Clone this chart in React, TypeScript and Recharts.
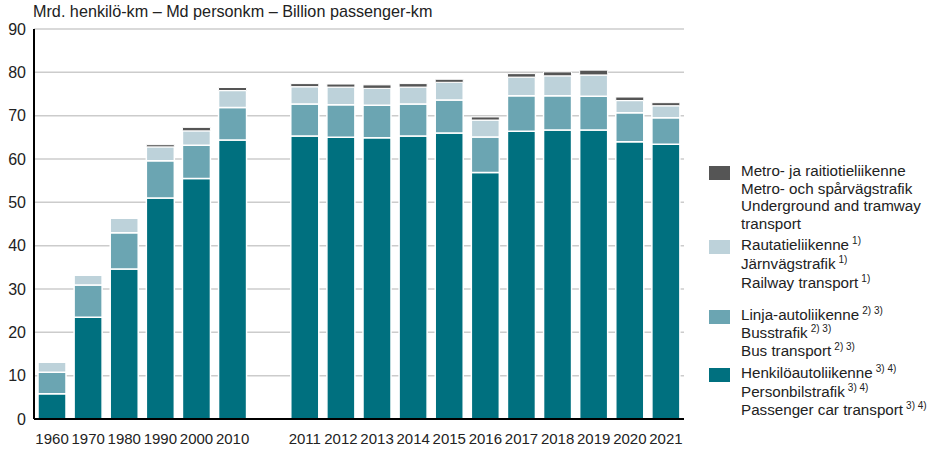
import { BarChart, Bar, XAxis, YAxis, CartesianGrid } from 'recharts';

const years = ['1960', '1970', '1980', '1990', '2000', '2010', '', '2011', '2012', '2013', '2014', '2015', '2016', '2017', '2018', '2019', '2020', '2021'];
const carValues = [5.8, 23.5, 34.6, 51.0, 55.5, 64.4, null, 65.3, 65.0, 64.9, 65.3, 66.0, 56.9, 66.4, 66.7, 66.7, 64.0, 63.4];
const busValues = [5.0, 7.4, 8.4, 8.6, 7.7, 7.5, null, 7.4, 7.5, 7.5, 7.4, 7.6, 8.2, 8.2, 7.9, 7.8, 6.7, 6.1];
const railValues = [2.3, 2.3, 3.3, 3.2, 3.3, 3.9, null, 4.0, 4.1, 3.9, 3.9, 4.1, 3.9, 4.3, 4.6, 4.9, 2.8, 2.8];
const metroValues = [0, 0, 0, 0.5, 0.8, 0.7, null, 0.7, 0.7, 0.8, 0.8, 0.7, 0.7, 0.8, 0.9, 1.1, 0.8, 0.7];
const yTicks = [0, 10, 20, 30, 40, 50, 60, 70, 80, 90];

const COLORS = {
	car: '#00707f',
	bus: '#6ba5b2',
	rail: '#bdd2da',
	metro: '#555555',
};

const FONT = '"Liberation Sans", Arial, sans-serif';

const data = years.map((year, i) => ({
	year,
	car: carValues[i],
	bus: busValues[i],
	rail: railValues[i],
	metro: metroValues[i],
}));

const legendItems = [
	{ color: COLORS.metro, top: 162, lh: 17.7, lines: [['Metro- ja raitiotieliikenne', ''], ['Metro- och spårvägstrafik', ''], ['Underground and tramway', ''], ['transport', '']] },
	{ color: COLORS.rail, top: 236, lh: 18.8, lines: [['Rautatieliikenne', '1)'], ['Järnvägstrafik', '1)'], ['Railway transport', '1)']] },
	{ color: COLORS.bus, top: 306, lh: 18.2, lines: [['Linja-autoliikenne', '2) 3)'], ['Busstrafik', '2) 3)'], ['Bus transport', '2) 3)']] },
	{ color: COLORS.car, top: 364, lh: 18.5, lines: [['Henkilöautoliikenne', '3) 4)'], ['Personbilstrafik', '3) 4)'], ['Passenger car transport', '3) 4)']] },
];

function Legend() {
	return (
		<>
			{legendItems.map((item, idx) => (
				<div key={idx} style={{ position: 'absolute', left: 709, top: item.top }}>
					<div style={{ position: 'absolute', left: 0, top: 4, width: 21, height: 14, background: item.color }} />
					<div style={{ position: 'absolute', left: 32, top: 0, width: 210, fontSize: 15.2, lineHeight: `${item.lh}px`, color: '#222', whiteSpace: 'nowrap' }}>
						{item.lines.map(([text, note], j) => (
							<div key={j}>
								{text}
								{note && (
									<span style={{ fontSize: 10, lineHeight: 0, position: 'relative', top: -6, marginLeft: 3 }}>{note}</span>
								)}
							</div>
						))}
					</div>
				</div>
			))}
		</>
	);
}

export default function App() {
	return (
		<div style={{ position: 'absolute', left: 0, top: 0, width: 934, height: 450, background: '#fff', fontFamily: FONT }}>
			<div style={{ position: 'absolute', left: 33, top: 2, fontSize: 16.2, color: '#222', whiteSpace: 'nowrap' }}>
				Mrd. henkilö-km – Md personkm – Billion passenger-km
			</div>
			<BarChart
				width={934}
				height={450}
				data={data}
				margin={{ top: 29, right: 250, bottom: 6, left: 0 }}
				barSize={28}
			>
				<CartesianGrid vertical={false} stroke="#cccccc" strokeWidth={1.5} />
				<XAxis
					dataKey="year"
					height={25}
					tickLine={false}
					axisLine={{ stroke: '#000', strokeWidth: 2 }}
					tick={{ fill: '#222', fontSize: 15, fontFamily: FONT }}
					tickMargin={8}
					interval={0}
				/>
				<YAxis
					width={34}
					domain={[0, 90]}
					ticks={yTicks}
					tickLine={false}
					axisLine={{ stroke: '#000', strokeWidth: 2 }}
					tick={{ fill: '#222', fontSize: 16, fontFamily: FONT }}
					interval={0}
				/>
				<Bar dataKey="car" stackId="a" fill={COLORS.car} stroke="#fff" strokeWidth={1.5} isAnimationActive={false} />
				<Bar dataKey="bus" stackId="a" fill={COLORS.bus} stroke="#fff" strokeWidth={1.5} isAnimationActive={false} />
				<Bar dataKey="rail" stackId="a" fill={COLORS.rail} stroke="#fff" strokeWidth={1.5} isAnimationActive={false} />
				<Bar dataKey="metro" stackId="a" fill={COLORS.metro} stroke="#fff" strokeWidth={1} isAnimationActive={false} />
			</BarChart>
			<Legend />
		</div>
	);
}
